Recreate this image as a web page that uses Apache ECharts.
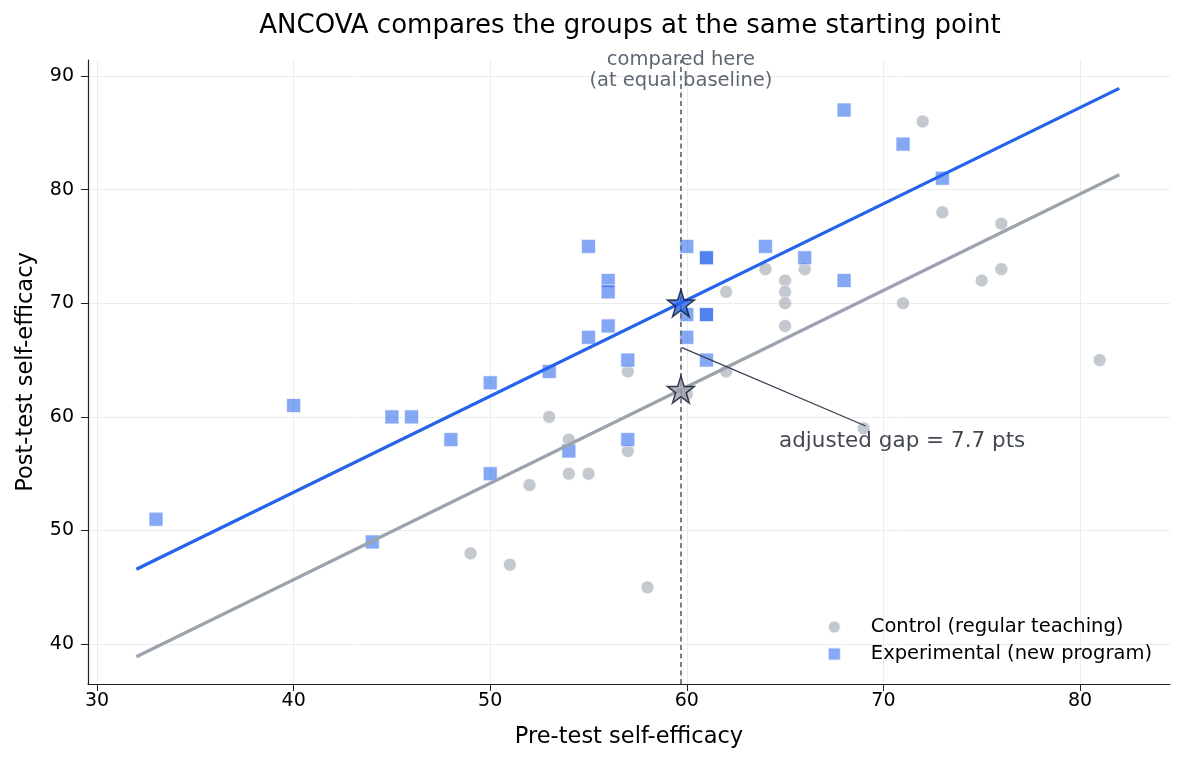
<!DOCTYPE html>
<html>
<head>
<meta charset="utf-8">
<script src="https://cdn.jsdelivr.net/npm/echarts@6/dist/echarts.min.js"></script>
<style>
  html, body { margin: 0; padding: 0; background: #fff; }
  #chart { width: 1185px; height: 765px; }
</style>
</head>
<body>
<div id="chart"></div>
<script>
// control group (gray circles)
const ctrlPre  = [49, 51, 52, 53, 54, 54, 55, 57, 57, 58, 60, 62, 62, 64, 65, 65, 65, 65, 66, 69, 71, 72, 73, 75, 76, 76, 81];
const ctrlPost = [48, 47, 54, 60, 58, 55, 55, 64, 57, 45, 62, 64, 71, 73, 72, 71, 70, 68, 73, 59, 70, 86, 78, 72, 73, 77, 65];

// experimental group (blue squares)
const expPre  = [33, 40, 44, 45, 46, 48, 50, 50, 53, 54, 55, 55, 56, 56, 56, 57, 57, 60, 60, 60, 61, 61, 61, 61, 61, 64, 66, 68, 68, 71, 73];
const expPost = [51, 61, 49, 60, 60, 58, 63, 55, 64, 57, 75, 67, 72, 71, 68, 65, 58, 75, 69, 67, 74, 74, 69, 69, 65, 75, 74, 87, 72, 84, 81];

// fitted parallel lines (ends)
const fitX    = [32, 82];
const expFit  = [46.6, 88.9];
const ctrlFit = [38.9, 81.3];

// adjusted means at the common baseline
const baseline = 59.7;
const expAdj = 70.0;
const ctrlAdj = 62.4;
const gapText = 'adjusted gap = 7.7 pts';

const xTicks = [30, 40, 50, 60, 70, 80];
const yTicks = [40, 50, 60, 70, 80, 90];

const FONT = 'DejaVu Sans';
const STAR = 'path://M50,2 L61.8,37.6 L99,37.6 L69,59.6 L80.4,95 L50,73.2 L19.6,95 L31,59.6 L1,37.6 L38.2,37.6 Z';

const zip = (a, b) => a.map((v, i) => [v, b[i]]);

const chart = echarts.init(document.getElementById('chart'));

chart.setOption({
  animation: false,
  textStyle: { fontFamily: FONT },
  title: {
    text: 'ANCOVA compares the groups at the same starting point',
    left: 625,
    textAlign: 'center',
    top: 8,
    textStyle: { fontFamily: FONT, fontSize: 26, fontWeight: 'normal', color: '#000' }
  },
  grid: { left: 88, right: 15, top: 60, bottom: 81 },
  legend: {
    orient: 'vertical',
    right: 28,
    top: 612,
    itemWidth: 13,
    itemHeight: 13,
    itemGap: 7,
    data: [
      { name: 'Control (regular teaching)', icon: 'circle' },
      { name: 'Experimental (new program)', icon: 'rect' }
    ],
    textStyle: { fontFamily: FONT, fontSize: 19.5, color: '#000', padding: [0, 0, 0, 25] }
  },
  xAxis: {
    type: 'value',
    min: 29.54,
    max: 84.58,
    name: 'Pre-test self-efficacy',
    nameLocation: 'middle',
    nameGap: 42,
    nameTextStyle: { fontFamily: FONT, fontSize: 22.5, color: '#000' },
    axisLine: { lineStyle: { color: '#222', width: 1.2 } },
    axisTick: { customValues: xTicks, length: 7, lineStyle: { color: '#222' } },
    axisLabel: { customValues: xTicks, fontSize: 19, color: '#000', margin: 8 },
    splitLine: { show: true, lineStyle: { color: '#ececec', width: 1 } }
  },
  yAxis: {
    type: 'value',
    min: 36.5,
    max: 91.4,
    name: 'Post-test self-efficacy',
    nameLocation: 'middle',
    nameGap: 50,
    nameTextStyle: { fontFamily: FONT, fontSize: 22.5, color: '#000' },
    axisLine: { show: true, lineStyle: { color: '#222', width: 1.2 } },
    axisTick: { show: true, customValues: yTicks, length: 7, lineStyle: { color: '#222' } },
    axisLabel: { customValues: yTicks, fontSize: 19, color: '#000', margin: 14 },
    splitLine: { show: true, lineStyle: { color: '#ececec', width: 1 } }
  },
  series: [
    {
      name: 'Control (regular teaching)',
      type: 'scatter',
      symbol: 'circle',
      symbolSize: 13,
      data: zip(ctrlPre, ctrlPost),
      itemStyle: { color: 'rgba(156,163,175,0.75)', borderColor: '#fff', borderWidth: 0.8 },
      z: 2
    },
    {
      name: 'Experimental (new program)',
      type: 'scatter',
      symbol: 'rect',
      symbolSize: 14,
      data: zip(expPre, expPost),
      itemStyle: { color: 'rgba(37,99,235,0.7)', borderColor: '#fff', borderWidth: 0.8 },
      z: 2,
      markLine: {
        silent: true,
        symbol: 'none',
        label: { show: false },
        lineStyle: { color: '#6b7280', type: [5, 3.5], width: 1.8 },
        data: [{ xAxis: baseline }]
      }
    },
    {
      name: 'ctrl fit',
      type: 'line',
      data: zip(fitX, ctrlFit),
      symbol: 'none',
      lineStyle: { color: '#9ca3af', width: 3.2 },
      z: 3
    },
    {
      name: 'exp fit',
      type: 'line',
      data: zip(fitX, expFit),
      symbol: 'none',
      lineStyle: { color: '#2563eb', width: 3.2 },
      z: 3
    },
    {
      name: 'gap pointer',
      type: 'line',
      data: [[59.75, 66.1], [69.1, 59.2]],
      symbol: 'none',
      lineStyle: { color: '#374151', width: 1.3 },
      z: 3
    },
    {
      name: 'adjusted means',
      type: 'scatter',
      symbol: STAR,
      symbolSize: 27,
      data: [
        { value: [baseline, expAdj], itemStyle: { color: '#2563eb' } },
        { value: [baseline, ctrlAdj], itemStyle: { color: '#9ca3af' } }
      ],
      itemStyle: { borderColor: '#111827', borderWidth: 1.5 },
      z: 5
    },
    {
      name: 'labels',
      type: 'scatter',
      symbolSize: 0.1,
      silent: true,
      itemStyle: { color: 'transparent' },
      data: [
        {
          value: [64.69, 57.87],
          label: { show: true, position: 'right', distance: 0, formatter: gapText,
                   fontFamily: FONT, fontSize: 21.5, color: '#111827' }
        },
        {
          value: [baseline, 90.45],
          label: { show: true, position: 'inside', formatter: 'compared here\n(at equal baseline)',
                   fontFamily: FONT, fontSize: 19.5, lineHeight: 21, color: '#374151', align: 'center' }
        }
      ],
      z: 6
    }
  ]
});
</script>
</body>
</html>
